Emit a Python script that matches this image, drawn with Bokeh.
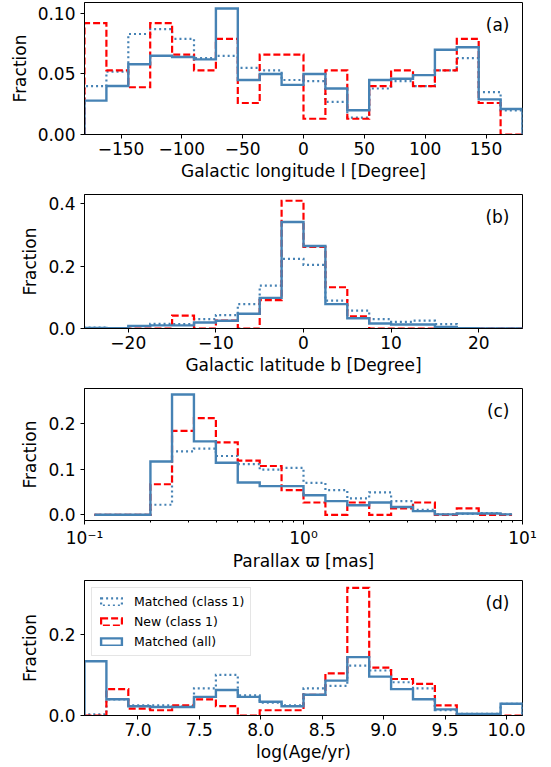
import math
from bokeh.plotting import figure
from bokeh.layouts import column
from bokeh.models import FixedTicker, Label, Legend, LegendItem, Range1d
from bokeh.embed import file_html
from bokeh.resources import INLINE

# ---------------- data ----------------
# (a) Galactic longitude, 20 bins of 18 degrees
l_edges = [-180 + 18 * i for i in range(21)]
l_matched_c1 = [0.040, 0.052, 0.083, 0.087, 0.079, 0.063, 0.065, 0.055, 0.053, 0.045,
                0.044, 0.027, 0.014, 0.038, 0.044, 0.040, 0.053, 0.063, 0.035, 0.020]
l_new_c1 = [0.092, 0.053, 0.039, 0.092, 0.066, 0.053, 0.079, 0.026, 0.066, 0.066,
            0.013, 0.053, 0.013, 0.040, 0.053, 0.040, 0.053, 0.079, 0.026, 0.000]
l_matched_all = [0.028, 0.040, 0.058, 0.065, 0.064, 0.062, 0.104, 0.045, 0.050, 0.041,
                 0.050, 0.038, 0.020, 0.045, 0.046, 0.049, 0.070, 0.072, 0.029, 0.021]

# (b) Galactic latitude, 20 bins of 2.5 degrees
b_edges = [-25 + 2.5 * i for i in range(21)]
b_matched_c1 = [0.003, 0.001, 0.008, 0.015, 0.014, 0.030, 0.043, 0.078, 0.137, 0.223,
                0.204, 0.089, 0.057, 0.030, 0.021, 0.025, 0.014, 0.001, 0.000, 0.000]
b_new_c1 = [0.000, 0.000, 0.000, 0.000, 0.041, 0.000, 0.025, 0.000, 0.091, 0.409,
            0.261, 0.132, 0.039, 0.000, 0.000, 0.000, 0.000, 0.000, 0.000, 0.000]
b_matched_all = [0.002, 0.001, 0.008, 0.010, 0.010, 0.019, 0.025, 0.047, 0.098, 0.341,
                 0.264, 0.078, 0.033, 0.016, 0.013, 0.013, 0.005, 0.001, 0.000, 0.000]

# (c) Parallax (mas), log bins
plx_edges = [0.111, 0.2, 0.251, 0.316, 0.398, 0.501, 0.631, 0.794, 1.0, 1.259,
             1.585, 1.995, 2.512, 3.162, 3.981, 5.012, 6.31, 7.943, 8.96]
plx_matched_c1 = [0.0, 0.022, 0.139, 0.145, 0.129, 0.111, 0.099, 0.103, 0.070,
                  0.054, 0.036, 0.049, 0.030, 0.011, 0.001, 0.002, 0.004, 0.001]
plx_new_c1 = [0.0, 0.067, 0.184, 0.212, 0.159, 0.119, 0.107, 0.054, 0.027,
              0.0, 0.027, 0.0, 0.014, 0.027, 0.0, 0.014, 0.0, 0.0]
plx_matched_all = [0.0, 0.117, 0.264, 0.161, 0.114, 0.071, 0.063, 0.063, 0.043,
                   0.030, 0.021, 0.027, 0.017, 0.008, 0.001, 0.003, 0.003, 0.001]

# (d) log(Age/yr), 20 bins
age_lo, age_hi = 6.565, 10.13
age_edges = [age_lo + (age_hi - age_lo) * i / 20 for i in range(21)]
age_matched_c1 = [0.003, 0.040, 0.025, 0.025, 0.022, 0.067, 0.100, 0.050, 0.032, 0.025,
                  0.067, 0.073, 0.123, 0.111, 0.082, 0.067, 0.013, 0.004, 0.004, 0.029]
age_new_c1 = [0.000, 0.065, 0.017, 0.013, 0.025, 0.040, 0.023, 0.000, 0.013, 0.013,
              0.051, 0.104, 0.315, 0.118, 0.090, 0.078, 0.025, 0.000, 0.000, 0.000]
age_matched_all = [0.134, 0.040, 0.023, 0.021, 0.021, 0.046, 0.063, 0.046, 0.034, 0.023,
                   0.051, 0.086, 0.144, 0.096, 0.065, 0.040, 0.015, 0.004, 0.004, 0.029]

series_names = ["Matched (class 1)", "New (class 1)", "Matched (all)"]

# ---------------- styles ----------------
BLUE = "#4682b4"
RED = "#ff0000"
STYLES = [
    dict(line_color=BLUE, line_width=2.2, line_dash="2 3"),
    dict(line_color=RED, line_width=2.2, line_dash="7 3"),
    dict(line_color=BLUE, line_width=2.4, line_dash="solid"),
]
FONT = "DejaVu Sans"
FS = "17px"


def step_xy(edges, vals, close=True):
    xs, ys = [], []
    if close:
        xs.append(edges[0]); ys.append(0.0)
    for i, v in enumerate(vals):
        xs += [edges[i], edges[i + 1]]
        ys += [v, v]
    if close:
        xs.append(edges[-1]); ys.append(0.0)
    return xs, ys


def make_panel(edges, series, xr, yr, frame_h, top, bottom, xlabel, tag,
               xticks, xlabels, yticks, ylabels, x_log=False, close=True, legend=False):
    p = figure(width=551, height=top + frame_h + bottom,
               frame_width=438, frame_height=frame_h,
               min_border_left=84, min_border_right=29,
               min_border_top=top, min_border_bottom=bottom,
               x_range=Range1d(*xr), y_range=Range1d(*yr),
               x_axis_type="log" if x_log else "linear",
               output_backend="svg", toolbar_location=None)
    p.xgrid.visible = False
    p.ygrid.visible = False
    p.outline_line_color = "black"
    p.outline_line_width = 1
    p.outline_line_alpha = 1
    p.background_fill_color = "white"
    p.border_fill_color = "white"

    for vals, st in zip(series, STYLES):
        xs, ys = step_xy(edges, vals, close)
        p.line(xs, ys, line_join="miter", line_cap="butt", **st)

    for ax in (p.xaxis[0], p.yaxis[0]):
        ax.axis_line_color = "black"
        ax.axis_line_width = 1
        ax.major_tick_line_color = "black"
        ax.major_tick_line_width = 1
        ax.major_tick_out = 4
        ax.major_tick_in = 0
        ax.major_label_text_font = FONT
        ax.major_label_text_font_size = FS
        ax.major_label_text_color = "black"
        ax.axis_label_text_font = FONT
        ax.axis_label_text_font_size = FS
        ax.axis_label_text_font_style = "normal"
        ax.axis_label_text_color = "black"

    xa = p.xaxis[0]
    if x_log:
        minors = [m * 10 ** e for e in (-1, 0) for m in range(2, 10)]
        xa.ticker = FixedTicker(ticks=xticks, minor_ticks=minors)
        xa.minor_tick_line_color = "black"
        xa.minor_tick_out = 2
        xa.minor_tick_in = 0
        xa.axis_label_standoff = 0
    else:
        xa.ticker = FixedTicker(ticks=xticks)
        xa.minor_tick_line_color = None
        xa.axis_label_standoff = 3
    xa.major_label_overrides = {t: s for t, s in zip(xticks, xlabels)}
    xa.major_label_standoff = 3
    xa.axis_label = xlabel

    ya = p.yaxis[0]
    ya.ticker = FixedTicker(ticks=yticks)
    ya.major_label_overrides = {t: s for t, s in zip(yticks, ylabels)}
    ya.minor_tick_line_color = None
    ya.major_label_standoff = 5
    ya.axis_label = "Fraction"
    ya.axis_label_standoff = 5

    # panel tag, top-right
    if x_log:
        lx = 10 ** (math.log10(xr[1]) - (math.log10(xr[1]) - math.log10(xr[0])) * 13 / 438)
    else:
        lx = xr[1] - (xr[1] - xr[0]) * 13 / 438
    ly = yr[1] - (yr[1] - yr[0]) * 22 / frame_h
    p.add_layout(Label(x=lx, y=ly, text=tag, text_align="right", text_baseline="middle",
                       text_font=FONT, text_font_size=FS, text_color="black"))

    if legend:
        items = []
        for name, st in zip(series_names, STYLES):
            # legend swatch renderer placed far outside the visible range
            r = p.rect(x=[xr[0]], y=[yr[0] - 10 * (yr[1] - yr[0])], width=0.01, height=0.01,
                       fill_alpha=0, line_color=st["line_color"], line_width=st["line_width"],
                       line_dash=st["line_dash"], line_join="miter")
            items.append(LegendItem(label=name, renderers=[r]))
        lg = Legend(items=items, location="top_left")
        lg.label_text_font = FONT
        lg.label_text_font_size = "12.5px"
        lg.label_text_color = "black"
        lg.glyph_width = 26
        lg.glyph_height = 9
        lg.label_height = 14
        lg.label_standoff = 10
        lg.spacing = 5
        lg.padding = 6
        lg.margin = 7
        lg.border_line_color = "#cccccc"
        lg.border_line_width = 1
        lg.background_fill_alpha = 0.8
        p.add_layout(lg)
    return p


MINUS = "\u2212"
pa = make_panel(l_edges, [l_matched_c1, l_new_c1, l_matched_all], (-180, 180), (0, 0.109),
                132, 2, 54, "Galactic longitude l [Degree]", "(a)",
                [-150, -100, -50, 0, 50, 100, 150],
                [MINUS + "150", MINUS + "100", MINUS + "50", "0", "50", "100", "150"],
                [0, 0.05, 0.10], ["0.00", "0.05", "0.10"])
pb = make_panel(b_edges, [b_matched_c1, b_new_c1, b_matched_all], (-25, 25), (0, 0.429),
                134, 6, 54, "Galactic latitude b [Degree]", "(b)",
                [-20, -10, 0, 10, 20], [MINUS + "20", MINUS + "10", "0", "10", "20"],
                [0, 0.2, 0.4], ["0.0", "0.2", "0.4"])
pc = make_panel(plx_edges, [plx_matched_c1, plx_new_c1, plx_matched_all], (0.1, 10), (-0.0125, 0.277),
                132, 6, 54, "Parallax \u03d6 [mas]", "(c)",
                [0.1, 1, 10], ["10\u207b\u00b9", "10\u2070", "10\u00b9"],
                [0, 0.1, 0.2], ["0.0", "0.1", "0.2"], x_log=True, close=False)
pd_ = make_panel(age_edges, [age_matched_c1, age_new_c1, age_matched_all], (age_lo, age_hi), (0, 0.333),
                 135, 6, 52, "log(Age/yr)", "(d)",
                 [7.0, 7.5, 8.0, 8.5, 9.0, 9.5, 10.0],
                 ["7.0", "7.5", "8.0", "8.5", "9.0", "9.5", "10.0"],
                 [0, 0.2], ["0.0", "0.2"], legend=True)

layout = column(pa, pb, pc, pd_, spacing=0)
open("out.html", "w").write(file_html(layout, INLINE))
